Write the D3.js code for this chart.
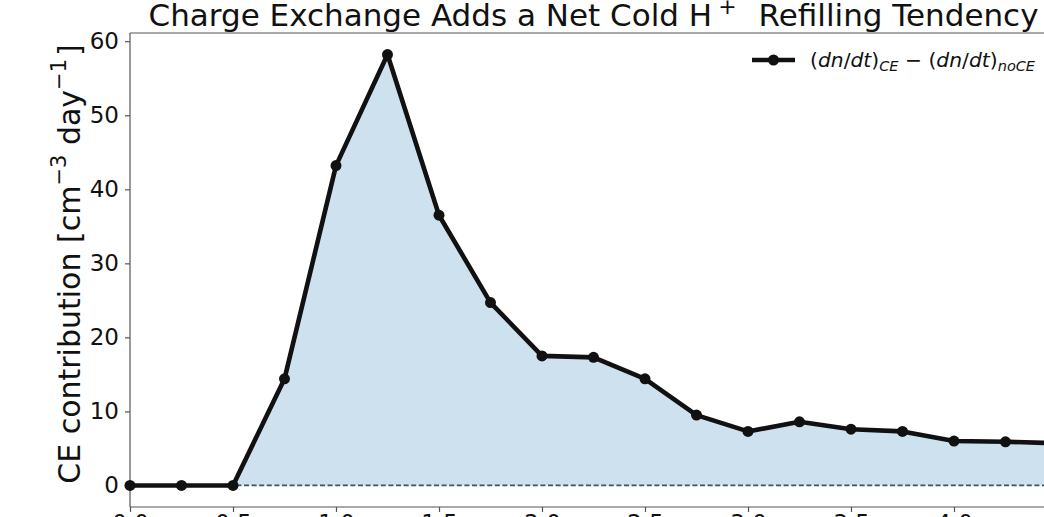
<!DOCTYPE html>
<html>
<head>
<meta charset="utf-8">
<script src="https://cdn.jsdelivr.net/npm/d3@7"></script>
<style>
html,body{margin:0;padding:0;background:#fff;overflow:hidden;}
svg{display:block;font-family:"DejaVu Sans",sans-serif;}
</style>
</head>
<body>
<svg id="chart" width="1044" height="517"></svg>
<script>
// Data
const xValues = [0,0.25,0.5,0.75,1.0,1.25,1.5,1.75,2.0,2.25,2.5,2.75,3.0,3.25,3.5,3.75,4.0,4.25,4.5];
const ceDiff  = [0,0,0,14.4,43.2,58.2,36.5,24.7,17.5,17.3,14.4,9.5,7.3,8.6,7.6,7.3,6.0,5.9,5.7];
const xTicks = [0,0.5,1.0,1.5,2.0,2.5,3.0,3.5,4.0,4.5];
const yTicks = [0,10,20,30,40,50,60];
const titleParts = ["Charge Exchange Adds a Net Cold H", "+", "Refilling Tendency"];

(function(){
const svg = d3.select("#chart");
const mLeft = 130, mRight = 1057, mTop = 33, mBottom = 507;

const x = d3.scaleLinear().domain([0, 4.5]).range([mLeft, mRight]);
const yMax = d3.max(ceDiff), pad = 0.05 * yMax;
const y = d3.scaleLinear().domain([-pad, yMax + pad]).range([mBottom, mTop]);

// fill
const area = d3.area().x((d,i)=>x(xValues[i])).y0(y(0)).y1(d=>y(Math.max(d,0)));
svg.append("path").datum(ceDiff).attr("d", area)
  .attr("fill", "#1f77b4").attr("fill-opacity", 0.22);

// zero dashed line
svg.append("line").attr("x1", mLeft).attr("x2", mRight).attr("y1", y(0)).attr("y2", y(0))
  .attr("stroke", "#3e5368").attr("stroke-width", 1.8)
  .attr("stroke-dasharray", "5,2.6");

// axes
const yAxis = d3.axisLeft(y).tickValues(yTicks).tickSize(5).tickPadding(6).tickFormat(d3.format("d"));
const gy = svg.append("g").attr("transform", `translate(${mLeft},0)`).call(yAxis);
const xAxis = d3.axisBottom(x).tickValues(xTicks).tickSize(5).tickPadding(3).tickFormat(d3.format(".1f"));
const gx = svg.append("g").attr("transform", `translate(0,${mBottom})`).call(xAxis);
[gx, gy].forEach(g => {
  g.selectAll(".domain").attr("stroke", "#555").attr("stroke-width", 1.2);
  g.selectAll(".tick line").attr("stroke", "#555").attr("stroke-width", 1.2);
  g.selectAll(".tick text").attr("font-size", 23).attr("fill", "#111")
    .attr("font-family", "DejaVu Sans");
});
gy.select(".domain").attr("d", `M0,${mBottom}V${mTop}`);
gx.select(".domain").attr("d", `M${mLeft},0H${mRight}`);
svg.append("line").attr("x1", mLeft).attr("x2", mRight).attr("y1", mTop).attr("y2", mTop)
  .attr("stroke", "#555").attr("stroke-width", 1.2);

// line + markers
const line = d3.line().x((d,i)=>x(xValues[i])).y(d=>y(d));
svg.append("path").datum(ceDiff).attr("d", line)
  .attr("fill", "none").attr("stroke", "#111").attr("stroke-width", 4.6)
  .attr("stroke-linejoin", "round");
svg.selectAll("circle.pt").data(ceDiff).join("circle").attr("class","pt")
  .attr("cx", (d,i)=>x(xValues[i])).attr("cy", d=>y(d)).attr("r", 5.5).attr("fill", "#111");

// title
const t = svg.append("text").attr("x", (mLeft+mRight)/2).attr("y", 26)
  .attr("text-anchor", "middle").attr("font-size", 31).attr("fill", "#111");
t.append("tspan").text(titleParts[0]);
t.append("tspan").attr("dx", 6).attr("dy", -12).attr("font-size", 22).text(titleParts[1]);
t.append("tspan").attr("dx", 22).attr("dy", 12).text(titleParts[2]);

// y label
const yl = svg.append("text").attr("transform", `translate(80,${264}) rotate(-90)`)
  .attr("text-anchor", "middle").attr("font-size", 30).attr("fill", "#111");
yl.append("tspan").text("CE contribution [cm");
yl.append("tspan").attr("dy", -14).attr("font-size", 21).text("\u2212" + "3");
yl.append("tspan").attr("dy", 14).text(" day");
yl.append("tspan").attr("dy", -14).attr("font-size", 21).text("\u2212" + "1");
yl.append("tspan").attr("dx", 3).attr("dy", 14).text("]");

// legend
const lg = svg.append("g").attr("transform", "translate(752,60)");
lg.append("line").attr("x1", 0).attr("x2", 43).attr("y1", 0).attr("y2", 0)
  .attr("stroke", "#111").attr("stroke-width", 4.6);
lg.append("circle").attr("cx", 21.5).attr("cy", 0).attr("r", 5.5).attr("fill", "#111");
const lt = lg.append("text").attr("x", 58).attr("y", 6.5).attr("font-size", 20.3).attr("fill", "#111");
lt.append("tspan").attr("font-style", "normal").text("(");
lt.append("tspan").attr("font-style", "italic").text("dn");
lt.append("tspan").attr("font-style", "normal").text("/");
lt.append("tspan").attr("font-style", "italic").text("dt");
lt.append("tspan").attr("font-style", "normal").text(")");
lt.append("tspan").attr("font-style", "italic").attr("font-size", 14.5).attr("dy", 4).text("CE");
lt.append("tspan").attr("font-style", "normal").attr("dy", -4).text(" \u2212 (");
lt.append("tspan").attr("font-style", "italic").text("dn");
lt.append("tspan").attr("font-style", "normal").text("/");
lt.append("tspan").attr("font-style", "italic").text("dt");
lt.append("tspan").attr("font-style", "normal").text(")");
lt.append("tspan").attr("font-style", "italic").attr("font-size", 14.5).attr("dy", 4).text("noCE");
})();
</script>
</body>
</html>
